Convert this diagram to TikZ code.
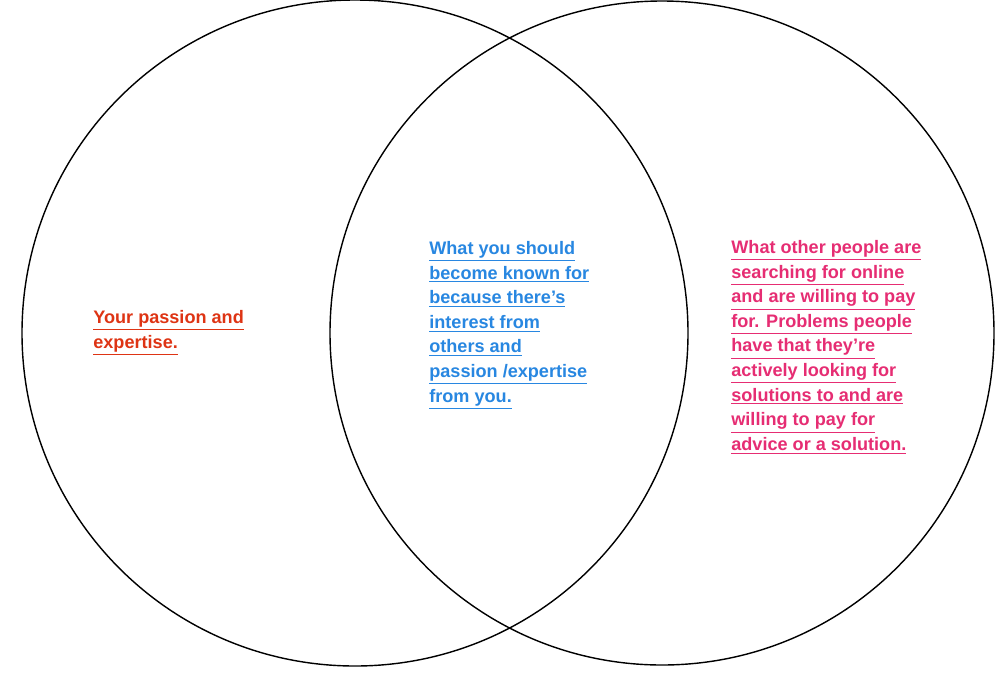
\documentclass[tikz,border=0pt]{standalone}
\usepackage{fontspec}
\setmainfont{Liberation Sans}
\definecolor{passionred}{RGB}{222,52,20}
\definecolor{knownblue}{RGB}{40,135,225}
\definecolor{searchpink}{RGB}{230,45,115}
\newcommand{\ul}[1]{\underline{#1}\\}
\tikzset{%
    venn/.style={draw=black,thick},
    label text/.style={anchor=north west,align=left,font=\bfseries\fontsize{10.3}{14}\selectfont,inner sep=0pt}
}
\begin{document}
\begin{tikzpicture}[x=0.02cm,y=-0.02cm]
  \useasboundingbox (0,0) rectangle (1000,687);
  \fill[white] (0,0) rectangle (1000,687);

  \draw[venn] (355,333) circle[radius=333];
  \draw[venn] (662,333) circle[radius=332];

  \node[label text,text=passionred] (passion) at (93,310)
    {\ul{Your passion and}\ul{expertise.}};
  \node[label text,text=knownblue] (known) at (429,241)
    {\ul{What you should}\ul{become known for}\ul{because there's}\ul{interest from}\ul{others and}\ul{passion /expertise}\ul{from you.}};
  \node[label text,text=searchpink] (search) at (731,240)
    {\ul{What other people are}\ul{searching for online}\ul{and are willing to pay}\ul{for. Problems people}\ul{have that they're}\ul{actively looking for}\ul{solutions to and are}\ul{willing to pay for}\ul{advice or a solution.}};
\end{tikzpicture}
\end{document}
